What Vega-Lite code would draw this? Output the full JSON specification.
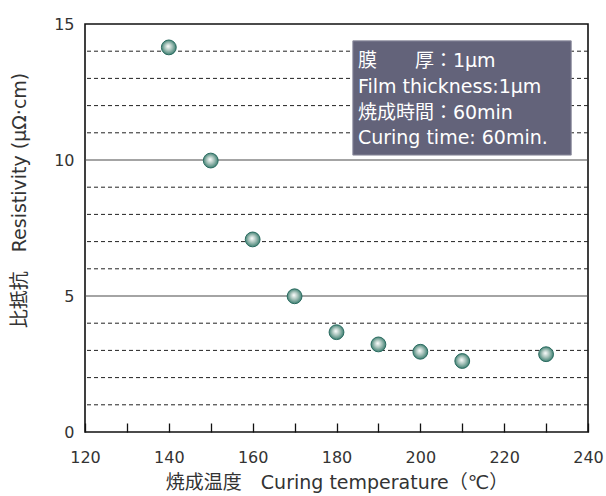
{
  "$schema": "https://vega.github.io/schema/vega-lite/v6.json",
  "width": 503,
  "height": 408,
  "autosize": {"type": "none"},
  "padding": {"left": 85, "top": 24, "right": 18, "bottom": 64},
  "background": "white",
  "config": {
    "view": {"stroke": "#111", "strokeWidth": 1.6},
    "font": "DejaVu Sans, Noto Sans CJK JP",
    "axis": {"labelFont": "DejaVu Sans, Noto Sans CJK JP", "titleFont": "DejaVu Sans, Noto Sans CJK JP", "labelColor": "#333", "titleColor": "#333", "labelFontSize": 16, "titleFontSize": 19, "titleFontWeight": "normal", "domain": false, "labelOverlap": false, "labelFlush": false}
  },
  "datasets": {
    "pts": [
      {"temp": 140, "res": 14.14},
      {"temp": 150, "res": 9.98},
      {"temp": 160, "res": 7.08},
      {"temp": 170, "res": 4.99},
      {"temp": 180, "res": 3.67},
      {"temp": 190, "res": 3.22},
      {"temp": 200, "res": 2.95},
      {"temp": 210, "res": 2.61},
      {"temp": 230, "res": 2.86}
    ],
    "minor": [{"v": 1}, {"v": 2}, {"v": 3}, {"v": 4}, {"v": 6}, {"v": 7}, {"v": 8}, {"v": 9}, {"v": 11}, {"v": 12}, {"v": 13}, {"v": 14}],
    "major": [{"v": 5}, {"v": 10}],
    "box": [{"x1": 183.9, "x2": 236.0, "y1": 14.38, "y2": 10.18}],
    "notes": [
      {"tx": 185.1, "ty": 13.64, "label": "膜　　厚：1μm"},
      {"tx": 185.1, "ty": 12.68, "label": "Film thickness:1μm"},
      {"tx": 185.1, "ty": 11.73, "label": "焼成時間：60min"},
      {"tx": 185.1, "ty": 10.81, "label": "Curing time: 60min."}
    ]
  },
  "layer": [
    {
      "data": {"name": "minor"},
      "mark": {"type": "rule", "stroke": "#222", "strokeWidth": 1, "strokeDash": [4, 3]},
      "encoding": {
        "y": {"field": "v", "type": "quantitative", "scale": {"domain": [0, 15], "nice": false},
          "axis": {"values": [0, 5, 10, 15], "ticks": false, "labelPadding": 11, "grid": false,
            "title": "比抵抗　Resistivity (μΩ·cm)", "titleX": -56, "titleY": 176}}
      }
    },
    {
      "data": {"name": "major"},
      "mark": {"type": "rule", "stroke": "#4a4a4a", "strokeWidth": 1.2},
      "encoding": {
        "y": {"field": "v", "type": "quantitative"}
      }
    },
    {
      "data": {"name": "box"},
      "mark": {"type": "rect", "fill": "#63637a", "stroke": "#8f8fa0", "strokeWidth": 1},
      "encoding": {
        "x": {"field": "x1", "type": "quantitative", "scale": {"domain": [120, 240], "nice": false, "zero": false},
          "axis": {"values": [120,130,140,150,160,170,180,190,200,210,220,230,240], "labelExpr": "datum.value % 20 === 0 ? datum.label : ''", "grid": false, "tickSize": -9, "tickColor": "#111", "tickWidth": 1.3, "labelPadding": 26, "title": "焼成温度　Curing temperature（℃）", "titlePadding": 8}},
        "x2": {"field": "x2"},
        "y": {"field": "y1", "type": "quantitative"},
        "y2": {"field": "y2"}
      }
    },
    {
      "data": {"name": "notes"},
      "mark": {"type": "text", "align": "left", "baseline": "middle", "color": "white", "fontSize": 19, "font": "DejaVu Sans, Noto Sans CJK JP"},
      "encoding": {
        "x": {"field": "tx", "type": "quantitative"},
        "y": {"field": "ty", "type": "quantitative"},
        "text": {"field": "label"}
      }
    },
    {
      "data": {"name": "pts"},
      "mark": {"type": "point", "shape": "circle", "filled": true, "size": 220, "opacity": 1, "strokeWidth": 1, "stroke": "#2a6b60",
        "fill": {"gradient": "radial", "x1": 0.45, "y1": 0.42, "r1": 0, "x2": 0.5, "y2": 0.5, "r2": 0.55,
          "stops": [{"offset": 0, "color": "#ffffff"}, {"offset": 0.45, "color": "#a9c4bc"}, {"offset": 1, "color": "#2d7566"}]}},
      "encoding": {
        "x": {"field": "temp", "type": "quantitative"},
        "y": {"field": "res", "type": "quantitative"}
      }
    }
  ]
}
